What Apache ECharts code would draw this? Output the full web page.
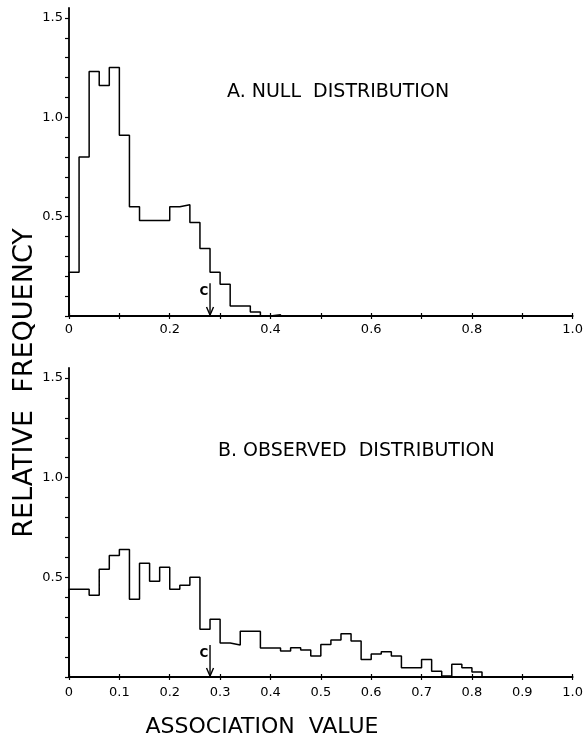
<!DOCTYPE html>
<html>
<head>
<meta charset="utf-8">
<script src="https://cdn.jsdelivr.net/npm/echarts@6/dist/echarts.min.js"></script>
<style>
html,body{margin:0;padding:0;background:#fff;}
#chart{width:586px;height:737px;}
</style>
</head>
<body>
<div id="chart"></div>
<script>
// ---- data ----
const binWidth = 0.02;
// relative frequency per 0.02-wide bin, starting at 0
const nullHeights = [0.22, 0.80, 1.23, 1.16, 1.25, 0.91, 0.55, 0.48, 0.48, 0.48,
  0.55, 0.56, 0.47, 0.34, 0.22, 0.16, 0.05, 0.05, 0.02, 0.0, 0.006];
const observedHeights = [0.44, 0.44, 0.41, 0.54, 0.61, 0.64, 0.39, 0.57, 0.48, 0.55,
  0.44, 0.46, 0.50, 0.24, 0.29, 0.17, 0.16, 0.23, 0.23, 0.145,
  0.145, 0.13, 0.147, 0.136, 0.105, 0.163, 0.186, 0.217, 0.181, 0.088,
  0.115, 0.127, 0.105, 0.046, 0.046, 0.088, 0.029, 0.005, 0.064, 0.047, 0.025];
const cutoffNull = [[0.28, 0.165]];
const cutoffObserved = [[0.28, 0.16]];
const xTicks = [0, 0.1, 0.2, 0.3, 0.4, 0.5, 0.6, 0.7, 0.8, 0.9, 1.0];
const xLabelsTop = [0, 0.2, 0.4, 0.6, 0.8, 1.0];
const xLabelsBottom = [0, 0.1, 0.2, 0.3, 0.4, 0.5, 0.6, 0.7, 0.8, 0.9, 1.0];
const yTicks = [0, 0.1, 0.2, 0.3, 0.4, 0.5, 0.6, 0.7, 0.8, 0.9, 1.0, 1.1, 1.2, 1.3, 1.4, 1.5];
const yLabels = [0.5, 1.0, 1.5];
const titleA = 'A. NULL  DISTRIBUTION';
const titleB = 'B. OBSERVED  DISTRIBUTION';
const yTitle = 'RELATIVE  FREQUENCY';
const xTitle = 'ASSOCIATION  VALUE';

// ---- build ----
const FONT = 'DejaVu Sans';
function stepPoints(h) {
  const pts = [[0, 0]];
  h.forEach((v, i) => pts.push([+(i * binWidth).toFixed(4), v]));
  pts.push([+(h.length * binWidth).toFixed(4), 0]);
  return pts;
}
function fmtX(v) { return v === 0 ? '0' : v.toFixed(1); }

function xAxes(gridIndex, labels, margin) {
  return [{
    type: 'value', gridIndex, min: 0, max: 1.0,
    axisLine: { lineStyle: { color: '#000', width: 1.8 } },
    axisTick: { customValues: xTicks, length: 3, lineStyle: { color: '#000', width: 1.2 } },
    axisLabel: { customValues: labels, formatter: fmtX, color: '#000', fontFamily: FONT, fontSize: 13, margin: margin },
    splitLine: { show: false }
  }, {
    type: 'value', gridIndex, min: 0, max: 1.0, position: 'bottom',
    axisLine: { show: false },
    axisTick: { customValues: xTicks, inside: true, length: 3, lineStyle: { color: '#000', width: 1.2 } },
    axisLabel: { show: false },
    splitLine: { show: false }
  }];
}
function yAxis(gridIndex) {
  return {
    type: 'value', gridIndex, min: 0, max: 1.55,
    axisLine: { show: true, lineStyle: { color: '#000', width: 1.8 } },
    axisTick: { show: true, customValues: yTicks, length: 4, lineStyle: { color: '#000', width: 1.2 } },
    axisLabel: { customValues: yLabels, formatter: v => v.toFixed(1), color: '#000', fontFamily: FONT, fontSize: 13, margin: 6 },
    splitLine: { show: false }
  };
}
function histSeries(xi, yi, h) {
  return {
    type: 'line', xAxisIndex: xi, yAxisIndex: yi, step: 'end', data: stepPoints(h),
    symbol: 'none', lineStyle: { color: '#000', width: 1.5 }, silent: true, animation: false
  };
}
function arrowSeries(xi, yi, d) {
  return {
    type: 'custom', xAxisIndex: xi, yAxisIndex: yi, data: d, silent: true, animation: false,
    renderItem: (params, api) => {
      const top = api.coord([api.value(0), api.value(1)]);
      const bot = api.coord([api.value(0), 0]);
      return {
        type: 'group', children: [
          { type: 'line', shape: { x1: top[0], y1: top[1], x2: bot[0], y2: bot[1] - 1 }, style: { stroke: '#000', lineWidth: 1.4 } },
          { type: 'polyline', shape: { points: [[bot[0] - 3.5, bot[1] - 9], [bot[0], bot[1] - 1], [bot[0] + 3.5, bot[1] - 9]] }, style: { stroke: '#000', fill: null, lineWidth: 1.4 } },
          { type: 'text', style: { text: 'C', x: top[0] - 6, y: top[1] + 9, align: 'center', verticalAlign: 'middle', font: 'bold 12px ' + FONT, fill: '#000' } }
        ]
      };
    }
  };
}

const chart = echarts.init(document.getElementById('chart'), null, { renderer: 'canvas' });
chart.setOption({
  animation: false,
  backgroundColor: '#fff',
  grid: [
    { left: 69, right: 10, top: 8, height: 308 },
    { left: 69, right: 10, top: 368, height: 309 }
  ],
  xAxis: [...xAxes(0, xLabelsTop, 7), ...xAxes(1, xLabelsBottom, 9)],
  yAxis: [yAxis(0), yAxis(1)],
  series: [
    histSeries(0, 0, nullHeights),
    histSeries(2, 1, observedHeights),
    arrowSeries(0, 0, cutoffNull),
    arrowSeries(2, 1, cutoffObserved)
  ],
  graphic: [
    { type: 'text', left: 227, top: 83, style: { text: titleA, font: '19px ' + FONT, fill: '#000' } },
    { type: 'text', left: 218, top: 442, style: { text: titleB, font: '19px ' + FONT, fill: '#000' } },
    { type: 'text', x: 25, y: 383, rotation: Math.PI / 2, style: { text: yTitle, font: '27px ' + FONT, fill: '#000', align: 'center', verticalAlign: 'middle' } },
    { type: 'text', x: 262, y: 727, style: { text: xTitle, font: '22px ' + FONT, fill: '#000', align: 'center', verticalAlign: 'middle' } }
  ]
});
</script>
</body>
</html>
